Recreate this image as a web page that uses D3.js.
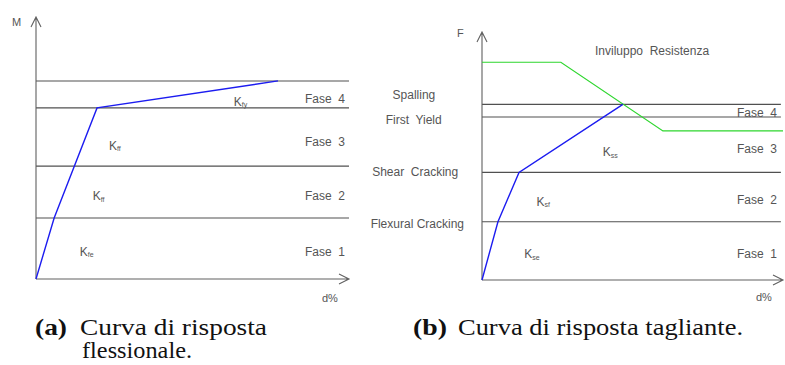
<!DOCTYPE html>
<html>
<head>
<meta charset="utf-8">
<script src="https://cdn.jsdelivr.net/npm/d3@7"></script>
<style>
  body { margin: 0; background: #fff; }
  svg text { font-family: "Liberation Sans", Arial, sans-serif; fill: #555; }
  .caption { font-family: "Liberation Serif", "DejaVu Serif", serif; fill: #111; font-size: 23px; }
</style>
</head>
<body>
<div id="chart"></div>
<script>
// ---- data (values in arbitrary units, 0..100 on both axes) ----
// (a) flessionale
var phaseLevelsA = [23.3, 43.1, 65.3, 75.6];
var curveA = [[0, 0], [5.8, 23.3], [19.5, 65.3], [77.3, 75.6]];
var phaseNamesA = ["Fase  1", "Fase  2", "Fase  3", "Fase  4"];
var phaseLabelYA = [10.4, 31.7, 52.3, 68.7];
var kLabelsA = [
    { k: "K", sub: "fe", x: 14, y: 10.4 },
    { k: "K", sub: "ff", x: 18.1, y: 31.5 },
    { k: "K", sub: "ff", x: 23.3, y: 50.8 },
    { k: "K", sub: "fy", x: 63.2, y: 67.7 }
];

// (b) tagliante
var phaseLevelsB = [23.5, 43.4, 65.7, 70.8];
var curveB = [[0, 0], [5.3, 23.5], [12.3, 43.4], [46.8, 70.8]];
var envelopeB = [[0, 87.8], [26.2, 87.8], [60.1, 60.1], [100, 60.1]];
var phaseNamesB = ["Fase  1", "Fase  2", "Fase  3", "Fase  4"];
var phaseLabelYB = [10.4, 32.2, 52.7, 67.5];
var levelNamesB = ["Flexural Cracking", "Shear  Cracking", "First  Yield", "Spalling"];
var levelLabelYB = [22.5, 43.5, 64.6, 74.6];
var levelLabelXB = [-37, -36.5, -32, -29.7];
var kLabelsB = [
    { k: "K", sub: "se", x: 14, y: 10.4 },
    { k: "K", sub: "sf", x: 18.1, y: 31.5 },
    { k: "K", sub: "ss", x: 40.1, y: 51.6 }
];

// captions: [bold tag, text, second line]
var captionA = ["(a)", "Curva di risposta", "flessionale."];
var captionB = ["(b)", "Curva di risposta tagliante."];

var svg = d3.select("#chart").append("svg")
    .attr("width", 785)
    .attr("height", 365);

var line = d3.line()
    .x(function (d) { return d[0]; })
    .y(function (d) { return d[1]; });

function drawPanel(opt) {
    var x = d3.scaleLinear().domain([0, 100]).range(opt.xr);
    var y = d3.scaleLinear().domain([0, 100]).range(opt.yr);
    var g = svg.append("g");
    var x0 = x(0), y0 = y(0);

    // phase boundaries
    g.selectAll(".lvl")
        .data(opt.levels)
        .enter()
        .append("line")
        .attr("x1", x0)
        .attr("x2", x(opt.lineEnd))
        .attr("y1", function (d) { return y(d); })
        .attr("y2", function (d) { return y(d); })
        .attr("stroke", "#505050")
        .attr("stroke-width", 1.1);

    // axes with open arrow heads
    g.append("path")
        .attr("d", line([[x0, y0], [x0, y(100)]]) + line([[x0 - 5, y(100) + 10], [x0, y(100)], [x0 + 5, y(100) + 10]]))
        .attr("fill", "none").attr("stroke", "#606060").attr("stroke-width", 1.1);
    g.append("path")
        .attr("d", line([[x0, y0], [x(100), y0]]) + line([[x(100) - 10, y0 - 5], [x(100), y0], [x(100) - 10, y0 + 5]]))
        .attr("fill", "none").attr("stroke", "#606060").attr("stroke-width", 1.1);

    g.append("text")
        .attr("x", opt.axisLabel[0]).attr("y", opt.axisLabel[1])
        .style("font-size", "11px")
        .text(opt.axisName);
    g.append("text")
        .attr("x", opt.dPos[0]).attr("y", opt.dPos[1])
        .style("font-size", "11px")
        .text("d%");

    // envelope
    if (opt.envelope) {
        g.append("path")
            .attr("d", line(opt.envelope.map(function (d) { return [x(d[0]), y(d[1])]; })))
            .attr("fill", "none").attr("stroke", "#2ed62e").attr("stroke-width", 1.2);
    }
    // response curve
    g.append("path")
        .attr("d", line(opt.curve.map(function (d) { return [x(d[0]), y(d[1])]; })))
        .attr("fill", "none").attr("stroke", "#1c1cf0").attr("stroke-width", 1.4);

    // phase names
    g.selectAll(".fase")
        .data(opt.phases)
        .enter()
        .append("text")
        .attr("x", opt.faseX)
        .attr("y", function (d, i) { return y(opt.phaseY[i]) + 4; })
        .attr("text-anchor", "end")
        .style("font-size", "12px")
        .style("white-space", "pre")
        .text(function (d) { return d; });

    // stiffness labels
    var kl = g.selectAll(".k")
        .data(opt.kLabels)
        .enter()
        .append("text")
        .attr("x", function (d) { return x(d.x); })
        .attr("y", function (d) { return y(d.y) + 4; })
        .style("font-size", "12px");
    kl.append("tspan").text(function (d) { return d.k; });
    kl.append("tspan").attr("dy", 1.5).style("font-size", "7px").text(function (d) { return d.sub; });

    return { g: g, x: x, y: y };
}

drawPanel({
    xr: [36, 349], yr: [279, 17], lineEnd: 100,
    levels: phaseLevelsA, curve: curveA,
    phases: phaseNamesA, phaseY: phaseLabelYA, faseX: 345,
    kLabels: kLabelsA,
    axisName: "M", axisLabel: [12, 26], dPos: [322, 302]
});

var pb = drawPanel({
    xr: [482, 783], yr: [280, 32], lineEnd: 99.3,
    levels: phaseLevelsB, curve: curveB, envelope: envelopeB,
    phases: phaseNamesB, phaseY: phaseLabelYB, faseX: 777,
    kLabels: kLabelsB,
    axisName: "F", axisLabel: [457, 37], dPos: [756, 301]
});

// level names on the left of panel (b)
pb.g.selectAll(".lvlname")
    .data(levelNamesB)
    .enter()
    .append("text")
    .attr("x", function (d, i) { return pb.x(levelLabelXB[i]); })
    .attr("y", function (d, i) { return pb.y(levelLabelYB[i]) + 4; })
    .style("font-size", "12px")
    .style("white-space", "pre")
    .text(function (d) { return d; });

pb.g.append("text")
    .attr("x", 595).attr("y", 55)
    .style("font-size", "12px")
    .style("white-space", "pre")
    .text("Inviluppo  Resistenza");

// captions, stretched to the widths of the original Computer Modern text
function caption(x, y, txt, len, bold) {
    return svg.append("text").attr("class", "caption")
        .attr("x", x).attr("y", y)
        .attr("textLength", len).attr("lengthAdjust", "spacingAndGlyphs")
        .style("font-weight", bold ? "bold" : "normal")
        .text(txt);
}
caption(35, 335, captionA[0], 32, true);
caption(80, 335, captionA[1], 187);
caption(82, 358, captionA[2], 110);
caption(413, 335, captionB[0], 34, true);
caption(458, 335, captionB[1], 285);
</script>
</body>
</html>
